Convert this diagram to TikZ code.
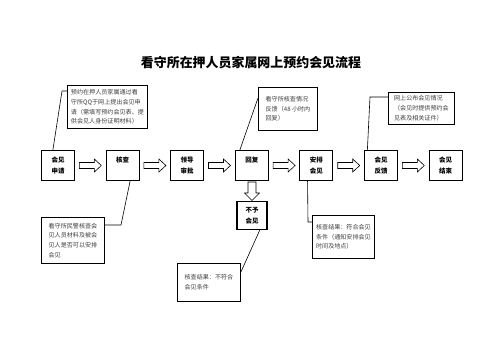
\documentclass[tikz,border=0pt]{standalone}
\usepackage{fontspec}
\setmainfont{Noto Sans CJK SC}
\usetikzlibrary{calc}
\begin{document}
\begin{tikzpicture}[x=1bp,y=-1bp,
  mainbox/.style={draw, line width=1.1bp, minimum width=33bp, minimum height=30bp, inner sep=0pt, align=center, font=\bfseries\fontsize{6.5}{11}\selectfont},
  notebox/.style={draw, line width=0.9bp, anchor=north west, align=left, inner sep=2.5bp, font=\fontsize{6.1}{9.8}\selectfont, text=black!75},
  callout/.style={draw, line width=0.6bp},
  rarrow/.pic={\draw[line width=0.6bp] (-11,-3) -- (4,-3) -- (4,-6.5) -- (11,0) -- (4,6.5) -- (4,3) -- (-11,3) -- cycle;},
  darrow/.pic={\draw[line width=0.6bp] (-4,-9) -- (-4,2) -- (-7.5,2) -- (0,9.5) -- (7.5,2) -- (4,2) -- (4,-9) -- cycle;}
]
\useasboundingbox[fill=white] (0,0) rectangle (503,356);

\node[font=\bfseries\fontsize{13}{15}\selectfont] (title) at (251,63) {看守所在押人员家属网上预约会见流程};

% main row
\node[mainbox] (apply)   at (58,165.5)    {会见\\申请};
\node[mainbox] (check)   at (122.6,165.5) {核查\\\mbox{}};
\node[mainbox] (approve) at (187.2,165.5) {领导\\审批};
\node[mainbox] (reply)   at (251.8,165.5) {回复\\\mbox{}};
\node[mainbox] (arrange) at (316.4,165.5) {安排\\会见};
\node[mainbox] (feedback) at (381,165.5)  {会见\\反馈};
\node[mainbox] (finish)  at (445.6,165.5) {会见\\结束};

\pic at ($(apply.east)!0.5!(check.west)$) {rarrow};
\pic at ($(check.east)!0.5!(approve.west)$) {rarrow};
\pic at ($(approve.east)!0.5!(reply.west)$) {rarrow};
\pic at ($(reply.east)!0.5!(arrange.west)$) {rarrow};
\pic at ($(arrange.east)!0.5!(feedback.west)$) {rarrow};
\pic at ($(feedback.east)!0.5!(finish.west)$) {rarrow};

% refuse
\node[mainbox, minimum width=30bp, minimum height=28bp] (refuse) at (252,215.5) {不予\\会见};
\pic at (252,191) {darrow};

% notes
\node[notebox, minimum width=80bp, minimum height=43bp] (noteA) at (67,85)
  {预约在押人员家属通过看\\守所QQ于网上提出会见申\\请（需填写预约会见表、提\\供会见人身份证明材料）};
\node[notebox, minimum width=59bp, minimum height=43bp] (noteB) at (258,87)
  {看守所核查情况\\反馈（48 小时内\\回复）};
\node[notebox, minimum width=66bp, minimum height=32bp] (noteC) at (388,92)
  {网上公布会见情况\\（会见时提供预约会\\见表及相关证件）};
\node[notebox, minimum width=63bp, minimum height=46bp] (noteD) at (41,217)
  {看守所民警核查会\\见人员材料及被会\\见人是否可以安排\\会见};
\node[notebox, minimum width=63bp, minimum height=38bp] (noteE) at (177,263)
  {核查结果：不符合\\会见条件};
\node[notebox, minimum width=62bp, minimum height=43bp] (noteF) at (312,215)
  {核查结果：符合会见\\条件（通知安排会见\\时间及地点）};

% callout connectors
\coordinate (ka) at (62,91);
\draw[callout] (noteA.west |- ka) -- (ka) -- ($(apply.north west)!0.35!(apply.north east)$);
\coordinate (kb) at (258,98);
\draw[callout] (noteB.west |- kb) -- ($(reply.north west)!0.15!(reply.north east)$);
\coordinate (kc) at (370,97);
\draw[callout] (noteC.west |- kc) -- (kc) -- ($(feedback.north west)!0.1!(feedback.north east)$);
\coordinate (kd) at (121,225);
\draw[callout] (noteD.east |- kd) -- (kd) -- ($(check.south west)!0.72!(check.south east)$);
\coordinate (ke) at (240,272);
\draw[callout] (noteE.east |- ke) -- ($(refuse.south west)!0.75!(refuse.south east)$);
\coordinate (kf) at (308,222);
\draw[callout] ($(arrange.south west)!0.24!(arrange.south east)$) -- (kf) -- (noteF.west |- kf);
\end{tikzpicture}
\end{document}
